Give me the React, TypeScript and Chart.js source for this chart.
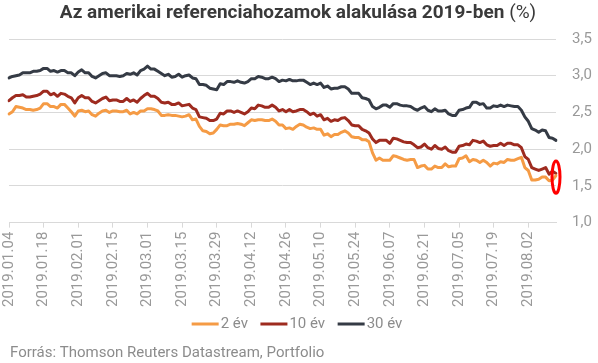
import React, { useEffect, useRef } from 'react';
import { Chart, registerables } from 'chart.js';

Chart.register(...registerables);

// ---------- data ----------
const TITLE_MAIN = 'Az amerikai referenciahozamok alakulása 2019-ben';
const TITLE_UNIT = '(%)';
const SOURCE_TEXT = 'Forrás: Thomson Reuters Datastream, Portfolio';
const SERIES_NAMES = ['2 év', '10 év', '30 év'];
const SERIES_COLORS = ['#F59B45', '#9E2B1F', '#353B45'];

const TICK_LABELS = [
  '2019.01.04', '2019.01.18', '2019.02.01', '2019.02.15', '2019.03.01', '2019.03.15',
  '2019.03.29', '2019.04.12', '2019.04.26', '2019.05.10', '2019.05.24', '2019.06.07',
  '2019.06.21', '2019.07.05', '2019.07.19', '2019.08.02',
];

const Y_MIN = 1.0;
const Y_MAX = 3.5;
const Y_STEP = 0.5;

const YIELD_2Y = [
  2.48, 2.51, 2.58, 2.57, 2.56, 2.54, 2.54, 2.53, 2.54, 2.56,
  2.62, 2.62, 2.58, 2.58, 2.56, 2.61, 2.61, 2.56, 2.51, 2.45,
  2.52, 2.53, 2.51, 2.52, 2.47, 2.45, 2.49, 2.52, 2.53, 2.50,
  2.52, 2.52, 2.51, 2.51, 2.53, 2.48, 2.50, 2.48, 2.52, 2.52,
  2.55, 2.55, 2.54, 2.52, 2.46, 2.46, 2.47, 2.46, 2.46, 2.45,
  2.44, 2.45, 2.47, 2.40, 2.41, 2.31, 2.25, 2.24, 2.21, 2.22,
  2.27, 2.33, 2.32, 2.32, 2.34, 2.34, 2.35, 2.34, 2.32, 2.36,
  2.40, 2.39, 2.40, 2.40, 2.39, 2.39, 2.41, 2.38, 2.33, 2.33,
  2.28, 2.29, 2.27, 2.31, 2.34, 2.33, 2.30, 2.28, 2.29, 2.27,
  2.27, 2.19, 2.21, 2.17, 2.20, 2.20, 2.23, 2.25, 2.22, 2.17,
  2.16, 2.16, 2.13, 2.13, 2.10, 1.95, 1.85, 1.88, 1.85, 1.85,
  1.85, 1.91, 1.90, 1.88, 1.86, 1.85, 1.86, 1.86, 1.75, 1.77,
  1.78, 1.73, 1.73, 1.77, 1.75, 1.75, 1.80, 1.76, 1.77, 1.77,
  1.87, 1.88, 1.91, 1.83, 1.86, 1.85, 1.82, 1.85, 1.82, 1.77,
  1.81, 1.80, 1.83, 1.82, 1.86, 1.85, 1.85, 1.87, 1.89, 1.75,
  1.71, 1.58, 1.58, 1.59, 1.62, 1.62, 1.57, 1.58, 1.64,
];

const YIELD_10Y = [
  2.66, 2.70, 2.73, 2.73, 2.74, 2.71, 2.71, 2.72, 2.73, 2.75,
  2.79, 2.79, 2.74, 2.76, 2.72, 2.76, 2.75, 2.72, 2.70, 2.63,
  2.70, 2.73, 2.70, 2.70, 2.65, 2.63, 2.66, 2.69, 2.71, 2.66,
  2.67, 2.67, 2.65, 2.65, 2.69, 2.65, 2.67, 2.64, 2.69, 2.73,
  2.76, 2.72, 2.72, 2.69, 2.64, 2.63, 2.64, 2.61, 2.61, 2.63,
  2.59, 2.60, 2.61, 2.56, 2.54, 2.44, 2.43, 2.42, 2.39, 2.39,
  2.41, 2.49, 2.48, 2.52, 2.52, 2.50, 2.52, 2.50, 2.48, 2.51,
  2.56, 2.55, 2.60, 2.59, 2.57, 2.57, 2.60, 2.57, 2.52, 2.54,
  2.51, 2.54, 2.51, 2.52, 2.54, 2.54, 2.51, 2.47, 2.49, 2.45,
  2.47, 2.40, 2.42, 2.38, 2.40, 2.39, 2.42, 2.43, 2.39, 2.33,
  2.32, 2.32, 2.27, 2.25, 2.22, 2.14, 2.09, 2.12, 2.12, 2.12,
  2.08, 2.15, 2.14, 2.12, 2.10, 2.09, 2.09, 2.06, 2.02, 2.03,
  2.07, 2.02, 2.00, 2.05, 2.01, 2.00, 2.03, 1.98, 1.96, 1.96,
  2.04, 2.05, 2.07, 2.06, 2.12, 2.11, 2.09, 2.11, 2.06, 2.04,
  2.05, 2.05, 2.08, 2.05, 2.08, 2.08, 2.06, 2.06, 2.02, 1.90,
  1.86, 1.75, 1.73, 1.71, 1.73, 1.75, 1.66, 1.70, 1.67,
];

const YIELD_30Y = [
  2.97, 2.99, 3.00, 3.01, 3.04, 3.04, 3.04, 3.06, 3.06, 3.07,
  3.10, 3.10, 3.06, 3.07, 3.05, 3.07, 3.07, 3.04, 3.04, 3.00,
  3.05, 3.08, 3.04, 3.04, 2.99, 2.97, 3.00, 3.03, 3.04, 3.00,
  3.00, 3.00, 2.99, 3.00, 3.03, 3.02, 3.04, 3.01, 3.07, 3.09,
  3.13, 3.09, 3.09, 3.06, 3.03, 3.00, 3.02, 2.98, 2.99, 3.02,
  2.98, 3.00, 3.01, 2.97, 2.96, 2.88, 2.88, 2.87, 2.83, 2.82,
  2.81, 2.89, 2.88, 2.92, 2.92, 2.91, 2.93, 2.91, 2.90, 2.92,
  2.96, 2.96, 2.99, 2.98, 2.96, 2.96, 2.98, 2.96, 2.92, 2.94,
  2.93, 2.95, 2.93, 2.93, 2.94, 2.94, 2.91, 2.88, 2.90, 2.88,
  2.90, 2.84, 2.86, 2.82, 2.83, 2.83, 2.85, 2.85, 2.82, 2.76,
  2.76, 2.76, 2.70, 2.69, 2.67, 2.58, 2.55, 2.57, 2.60, 2.60,
  2.57, 2.62, 2.62, 2.60, 2.59, 2.59, 2.58, 2.55, 2.53, 2.56,
  2.58, 2.53, 2.51, 2.55, 2.52, 2.52, 2.53, 2.48, 2.46, 2.46,
  2.53, 2.54, 2.56, 2.57, 2.64, 2.64, 2.61, 2.62, 2.56, 2.56,
  2.59, 2.58, 2.60, 2.58, 2.60, 2.59, 2.58, 2.58, 2.53, 2.44,
  2.38, 2.28, 2.26, 2.23, 2.26, 2.25, 2.16, 2.15, 2.12,
];

// highlighted (encircled) region: last observation
const HIGHLIGHT_VALUE = 1.62;
const HIGHLIGHT_HALF_SPAN = 0.22;

function buildWeekdayLabels(startIso: string, count: number): string[] {
  const out: string[] = [];
  const d = new Date(startIso + 'T00:00:00Z');
  while (out.length < count) {
    const wd = d.getUTCDay();
    if (wd !== 0 && wd !== 6) {
      out.push(
        `${d.getUTCFullYear()}.${String(d.getUTCMonth() + 1).padStart(2, '0')}.${String(d.getUTCDate()).padStart(2, '0')}`
      );
    }
    d.setUTCDate(d.getUTCDate() + 1);
  }
  return out;
}

const DATES = buildWeekdayLabels('2019-01-04', YIELD_2Y.length);

// ---------- styles ----------
const FONT = 'Roboto';
const TEXT_GRAY = '#999999';
const GRID_GRAY = '#d9d9d9';

const chromePlugin = {
  id: 'chrome',
  afterDraw(chart: any) {
    const ctx = chart.ctx as CanvasRenderingContext2D;
    const { width } = chart;
    ctx.save();

    // Title (bold main part + regular unit)
    ctx.textBaseline = 'alphabetic';
    ctx.textAlign = 'left';
    const boldFont = `bold 19px ${FONT}`;
    const regFont = `19px ${FONT}`;
    ctx.font = boldFont;
    const w1 = ctx.measureText(TITLE_MAIN + ' ').width;
    ctx.font = regFont;
    const w2 = ctx.measureText(TITLE_UNIT).width;
    const tx = width / 2 - 1 - (w1 + w2) / 2;
    ctx.fillStyle = '#3a3a3a';
    ctx.font = boldFont;
    ctx.fillText(TITLE_MAIN + ' ', tx, 18);
    ctx.font = regFont;
    ctx.fillText(TITLE_UNIT, tx + w1, 18);

    // Ellipse around last observation
    const xs = chart.scales.x;
    const ys = chart.scales.y;
    const lastIdx = DATES.length - 1;
    const cx = xs.getPixelForValue(lastIdx);
    const cy = ys.getPixelForValue(HIGHLIGHT_VALUE);
    const ry = cy - ys.getPixelForValue(HIGHLIGHT_VALUE + HIGHLIGHT_HALF_SPAN);
    ctx.beginPath();
    ctx.ellipse(cx, cy, 4, ry, 0, 0, Math.PI * 2);
    ctx.strokeStyle = '#ff0000';
    ctx.lineWidth = 3;
    ctx.stroke();

    // Legend
    ctx.font = `15px ${FONT}`;
    ctx.textBaseline = 'middle';
    const lineLen = 27;
    const gap = 2;
    const spacing = 12.5;
    const datasets = chart.data.datasets;
    const widths = datasets.map((ds: any) => lineLen + gap + ctx.measureText(ds.label).width);
    const total = widths.reduce((a: number, b: number) => a + b, 0) + spacing * (datasets.length - 1);
    let lx = width / 2 - 2 - total / 2;
    const ly = 324;
    datasets.forEach((ds: any, i: number) => {
      ctx.fillStyle = ds.borderColor;
      ctx.fillRect(lx, ly - 1.5, lineLen, 3);
      ctx.fillStyle = '#8c8c8c';
      ctx.fillText(ds.label, lx + lineLen + gap, ly + 0.5);
      lx += widths[i] + spacing;
    });

    // Source
    ctx.textBaseline = 'alphabetic';
    ctx.fillStyle = '#8c8c8c';
    ctx.font = `15px ${FONT}`;
    ctx.fillText(SOURCE_TEXT, 10, 357);

    ctx.restore();
  },
};

export default function App() {
  const canvasRef = useRef<HTMLCanvasElement | null>(null);

  useEffect(() => {
    if (!canvasRef.current) return;
    const series = [YIELD_2Y, YIELD_10Y, YIELD_30Y];
    const chart = new Chart(canvasRef.current, {
      type: 'line',
      data: {
        labels: DATES,
        datasets: series.map((values, i) => ({
          label: SERIES_NAMES[i],
          data: values,
          borderColor: SERIES_COLORS[i],
          backgroundColor: SERIES_COLORS[i],
          borderWidth: 3,
          pointRadius: 0,
          pointHoverRadius: 0,
          tension: 0,
          fill: false,
          borderJoinStyle: 'round' as const,
          borderCapStyle: 'round' as const,
        })),
      },
      options: {
        responsive: false,
        animation: false,
        events: [],
        devicePixelRatio: 1,
        layout: { padding: { top: 39, right: 0, bottom: 52, left: 9 } },
        plugins: {
          legend: { display: false },
          title: { display: false },
          tooltip: { enabled: false },
        },
        scales: {
          x: {
            type: 'category',
            offset: false,
            grid: {
              display: true,
              drawOnChartArea: false,
              drawTicks: true,
              tickLength: 5,
              color: GRID_GRAY,
            },
            border: { display: true, color: GRID_GRAY },
            ticks: {
              autoSkip: false,
              maxRotation: 90,
              minRotation: 90,
              padding: 4,
              color: TEXT_GRAY,
              font: { family: FONT, size: 15 },
              callback: function (this: any, value: any) {
                const lbl = this.getLabelForValue(value);
                return TICK_LABELS.includes(lbl) ? lbl : null;
              },
            },
          },
          y: {
            position: 'right',
            min: Y_MIN,
            max: Y_MAX,
            afterFit: (scale: any) => {
              scale.width = 42;
            },
            grid: { color: GRID_GRAY, drawTicks: false, lineWidth: 1 },
            border: { display: false },
            ticks: {
              stepSize: Y_STEP,
              padding: 16,
              color: TEXT_GRAY,
              font: { family: FONT, size: 15 },
              callback: (v: any) => Number(v).toFixed(1).replace('.', ','),
            },
          },
        },
      },
      plugins: [chromePlugin],
    });
    return () => chart.destroy();
  }, []);

  return (
    <div style={{ position: 'absolute', left: 0, top: 0, width: 598, height: 363, background: '#ffffff' }}>
      <canvas ref={canvasRef} width={598} height={363} style={{ display: 'block', width: 598, height: 363 }} />
    </div>
  );
}
